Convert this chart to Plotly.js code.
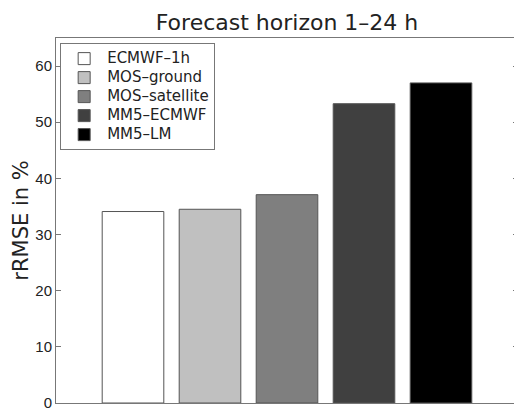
<!DOCTYPE html>
<html>
<head>
<meta charset="utf-8">
<script src="https://cdn.plot.ly/plotly-3.0.1.min.js"></script>
<style>html,body{margin:0;padding:0;overflow:hidden;background:#fff;}#chart{width:520px;height:410px;}</style>
</head>
<body>
<div id="chart"></div>
<script>
var models = ["ECMWF–1h", "MOS–ground", "MOS–satellite", "MM5–ECMWF", "MM5–LM"];
var rrmse = [34.1, 34.5, 37.1, 53.3, 57.0];
var fills = ["#ffffff", "#c0c0c0", "#7f7f7f", "#404040", "#000000"];
var yTicks = [0, 10, 20, 30, 40, 50, 60];

var traces = models.map(function (m, i) {
  return {
    type: "bar",
    name: '<span style="font-size:15px">' + m + '</span>',
    x: [m],
    y: [rrmse[i]],
    width: 0.8,
    marker: { color: fills[i], line: { color: "#555555", width: 1 } },
    hoverinfo: "none"
  };
});

var layout = {
  width: 520,
  height: 410,
  margin: { l: 56, r: 2, t: 38, b: 7 },
  paper_bgcolor: "#ffffff",
  plot_bgcolor: "#ffffff",
  barmode: "overlay",
  font: { family: "DejaVu Sans, sans-serif", color: "#222222", size: 14 },
  title: {
    text: "Forecast horizon 1–24 h",
    font: { size: 22, color: "#222222", family: "DejaVu Sans, sans-serif" },
    x: 0.5, xref: "paper", xanchor: "center",
    y: 1 - 22 / 410, yref: "container", yanchor: "middle"
  },
  xaxis: {
    type: "category",
    categoryorder: "array",
    categoryarray: models,
    range: [-1, 5],
    showticklabels: false,
    ticks: "",
    showgrid: false,
    zeroline: false,
    showline: true,
    linecolor: "#777777",
    linewidth: 1,
    mirror: true
  },
  yaxis: {
    range: [0, 65],
    tickvals: yTicks,
    ticktext: yTicks.map(String),
    ticks: "inside",
    ticklen: 5,
    tickcolor: "#777777",
    ticklabeloverflow: "allow",
    showgrid: false,
    zeroline: false,
    showline: true,
    linecolor: "#777777",
    linewidth: 1,
    mirror: "ticks",
    tickfont: { size: 15, color: "#222222", family: "Liberation Sans, Arial, sans-serif" },
    title: { text: "rRMSE in %", font: { size: 21, color: "#222222", family: "DejaVu Sans, sans-serif" }, standoff: 0 }
  },
  showlegend: true,
  legend: {
    x: 0.009, y: 0.986, xanchor: "left", yanchor: "top",
    bgcolor: "#ffffff",
    bordercolor: "#777777",
    borderwidth: 1,
    itemwidth: 36,
    font: { size: 12, color: "#222222", family: "DejaVu Sans, sans-serif" },
    tracegroupgap: 0
  }
};

Plotly.newPlot("chart", traces, layout, { staticPlot: true, displayModeBar: false });
</script>
</body>
</html>
